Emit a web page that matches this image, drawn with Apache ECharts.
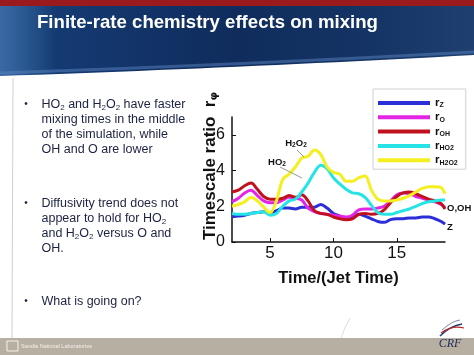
<!DOCTYPE html>
<html><head><meta charset="utf-8">
<script src="https://cdn.jsdelivr.net/npm/echarts@6/dist/echarts.min.js"></script>
<style>html,body{margin:0;padding:0;background:#fff}#c{width:474px;height:355px}</style>
</head><body><div id="c"></div>
<script>
const time  = [2,2.5,3,3.5,4,4.5,5,5.5,6,6.5,7,7.5,8,8.5,9,9.5,10,10.5,11,11.5,12,12.5,13,13.5,14,14.5,15,15.5,16,16.5,17,17.5,18,18.5,18.8];
const rZ    = [1.42,1.45,1.5,1.6,1.65,1.7,1.65,1.75,1.9,1.9,1.85,1.95,1.95,1.95,2.1,1.9,1.6,1.45,1.3,1.4,1.55,1.45,1.3,1.15,1.1,1.25,1.3,1.3,1.35,1.35,1.4,1.4,1.3,1.15,1.0];
const rO    = [2.25,2.45,2.75,2.9,2.6,2.3,2.2,2.2,2.35,2.5,2.45,2.35,1.9,1.7,1.6,1.55,1.5,1.45,1.4,1.5,1.8,1.85,1.85,1.9,2.0,2.3,2.65,2.75,2.7,2.55,2.45,2.35,2.25,2.1,1.9];
const rOH   = [2.8,2.9,3.15,3.3,2.95,2.55,2.4,2.4,2.45,2.6,2.5,2.65,2.3,1.75,1.6,1.55,1.4,1.3,1.25,1.3,1.55,1.6,1.55,1.6,1.8,2.2,2.55,2.75,2.8,2.7,2.55,2.4,2.3,2.15,1.85];
const rHO2  = [1.6,1.55,1.55,1.6,1.65,1.7,1.5,1.6,2.0,2.3,2.4,2.8,3.3,3.9,4.3,4.1,3.6,3.25,2.95,2.75,2.7,2.5,2.05,1.65,1.55,1.55,1.65,1.75,1.85,2.0,2.15,2.25,2.3,2.35,2.35];
const rH2O2 = [2.0,2.1,2.25,2.5,2.3,1.95,1.65,2.3,3.5,3.8,4.2,4.7,4.8,5.15,4.9,4.2,3.9,3.8,3.4,3.4,3.6,3.7,2.9,2.4,2.3,2.3,2.35,2.45,2.6,2.8,3.0,3.1,3.1,3.05,2.7];
const seriesNames = ['Z','O','OH','HO2','H2O2'];
const xTicks = [5,10,15];
const yTicks = [0,2,4,6];
const title = 'Finite-rate chemistry effects on mixing';
const bullets = [
  ['HO{s|2} and H{s|2}O{s|2} have faster','mixing times in the middle','of the simulation, while','OH and O are lower'],
  ['Diffusivity trend does not','appear to hold for HO{s|2}','and H{s|2}O{s|2} versus O and','OH.'],
  ['What is going on?']
];

const colors = ['#2b2fd8','#e426e4','#c0121c','#26e4e6','#f4f020'];
const allData = [rZ,rO,rOH,rHO2,rH2O2];
const FONT = '"Liberation Sans", Arial, sans-serif';

const chart = echarts.init(document.getElementById('c'));

// header bottom edge (decorative curve)
const headerPts = [[0,0],[474,0]];
for (let k = 0; k <= 24; k++) {
  const t = k/24;
  const x = (1-t)*(1-t)*474 + 2*t*(1-t)*237 + t*t*0;
  const y = (1-t)*(1-t)*55 + 2*t*(1-t)*68 + t*t*76;
  headerPts.push([x,y]);
}
const grad = (stops, x2, y2) => ({type:'linear', x:0, y:0, x2:x2, y2:y2, colorStops:stops});

const graphics = [];
graphics.push({type:'polygon', z:-10, shape:{points:headerPts},
  style:{fill:grad([
    {offset:0,color:'#3a6aa6'},{offset:0.05,color:'#2a5890'},{offset:0.12,color:'#153a72'},
    {offset:0.5,color:'#0f2c5c'},{offset:0.8,color:'#153566'},{offset:1,color:'#1e3f70'}],1,0)}});
graphics.push({type:'bezierCurve', z:-9, shape:{x1:0,y1:73,cpx1:237,cpy1:65,x2:474,y2:52},
  style:{stroke:'rgba(90,130,190,0.5)', lineWidth:3, fill:null}});
graphics.push({type:'rect', z:-8, shape:{x:0,y:0,width:474,height:6}, style:{fill:'#9b1a1e'}});
graphics.push({type:'text', z:10, x:37, y:23, style:{text:title, fill:'#ffffff',
  font:'bold 18.6px '+FONT, verticalAlign:'middle'}});
// left faint line
graphics.push({type:'line', z:-9, shape:{x1:13,y1:78,x2:12,y2:338}, style:{stroke:'#d0d0d0', lineWidth:1}});
// footer
graphics.push({type:'rect', z:-8, shape:{x:0,y:338,width:474,height:17}, style:{fill:'#b7afa1'}});
graphics.push({type:'bezierCurve', z:-9, shape:{x1:337,y1:355,cpx1:340,cpy1:335,x2:350,y2:318}, style:{stroke:'#dcdcdc', lineWidth:1, fill:null}});
graphics.push({type:'rect', z:-7, shape:{x:7,y:341,width:11,height:10}, style:{fill:null, stroke:'#f4f0ea', lineWidth:1}});
graphics.push({type:'text', z:-7, x:21, y:346.5, style:{text:'Sandia National Laboratories', fill:'#f4f0ea',
  font:'5.5px '+FONT, verticalAlign:'middle'}});
// CRF logo
graphics.push({type:'bezierCurve', z:-7, shape:{x1:440,y1:336,cpx1:450,cpy1:326,x2:462,y2:324}, style:{stroke:'#2a3f75', lineWidth:1.5, fill:null}});
graphics.push({type:'bezierCurve', z:-7, shape:{x1:441,y1:333,cpx1:452,cpy1:325,x2:464,y2:328}, style:{stroke:'#b22a2a', lineWidth:1.2, fill:null}});
graphics.push({type:'bezierCurve', z:-7, shape:{x1:442,y1:330,cpx1:452,cpy1:321,x2:460,y2:320}, style:{stroke:'#7a8aa8', lineWidth:1, fill:null}});
graphics.push({type:'text', z:-6, x:450, y:344, style:{text:'CRF', fill:'#1d2a55',
  font:'italic 12px "Liberation Serif", serif', align:'center', verticalAlign:'middle'}});
// bullets
const bulletTops = [104.5, 203.5, 301.5];
bullets.forEach((lines, bi) => {
  graphics.push({type:'text', x:26, y:bulletTops[bi], style:{text:'•', fill:'#1c2240',
    font:'10px '+FONT, align:'center', verticalAlign:'middle'}});
  lines.forEach((ln, li) => {
    graphics.push({type:'text', x:41.5, y:bulletTops[bi] + li*15, style:{text:ln, fill:'#1c2240',
      font:'12.5px '+FONT, lineHeight:15, verticalAlign:'middle',
      rich:{s:{fontSize:8, fontFamily:FONT, lineHeight:7, verticalAlign:'bottom', fill:'#1c2240'}}}});
  });
});
// y axis title (rotated)
graphics.push({type:'text', x:210, y:166, rotation:Math.PI/2, style:{
  text:'Timescale ratio  {r|r}{p|φ}', fill:'#111', font:'bold 17px '+FONT, lineHeight:20,
  align:'center', verticalAlign:'middle',
  rich:{r:{fontSize:17, fontWeight:'bold', fontFamily:FONT, lineHeight:20, fill:'#111'},
        p:{fontSize:11, fontWeight:'bold', fontFamily:'"DejaVu Sans", sans-serif', lineHeight:8, verticalAlign:'bottom', fill:'#111'}}}});
// annotations
const ann = (txt, x, y) => ({type:'text', x, y, z:20, style:{text:txt, fill:'#111', font:'bold 9.5px '+FONT,
  lineHeight:11, align:'center', verticalAlign:'middle',
  rich:{s:{fontSize:6.5, fontWeight:'bold', fontFamily:FONT, lineHeight:5, verticalAlign:'bottom', fill:'#111'}}}});
graphics.push(ann('H{s|2}O{s|2}', 296, 143.5));
graphics.push(ann('HO{s|2}', 277, 162));
graphics.push({type:'line', z:19, shape:{x1:297,y1:150,x2:304,y2:157}, style:{stroke:'#999', lineWidth:1}});
graphics.push({type:'line', z:19, shape:{x1:280,y1:167,x2:302,y2:178}, style:{stroke:'#999', lineWidth:1}});
graphics.push({type:'text', z:20, x:447, y:208, style:{text:'O,OH', fill:'#111', font:'bold 9.5px '+FONT, verticalAlign:'middle'}});
graphics.push({type:'text', z:20, x:447, y:227, style:{text:'Z', fill:'#111', font:'bold 9.5px '+FONT, verticalAlign:'middle'}});

const option = {
  backgroundColor:'#ffffff',
  animation:false,
  graphic: graphics,
  grid:{left:232, right:29, top:117, bottom:113},
  legend:{
    orient:'vertical', left:373, top:89, selectedMode:false,
    backgroundColor:'#ffffff', borderColor:'#cfcfcf', borderWidth:1,
    padding:[8,8,3,5], itemWidth:52, itemHeight:4, itemGap:2.3,
    icon:'rect',
    data: seriesNames,
    formatter: n => '{r|r}{s|' + n + '}',
    textStyle:{ rich:{
      r:{fontSize:11.5, fontWeight:'bold', fontFamily:FONT, lineHeight:12, color:'#111'},
      s:{fontSize:7, fontWeight:'bold', fontFamily:FONT, lineHeight:5, verticalAlign:'bottom', color:'#111'}
    }}
  },
  xAxis:{
    type:'value', min:2, max:18.8,
    name:'Time/(Jet Time)', nameLocation:'middle', nameGap:28,
    nameTextStyle:{fontSize:16.5, fontWeight:'bold', fontFamily:FONT, color:'#111'},
    axisLine:{lineStyle:{color:'#111', width:1.5}},
    axisTick:{inside:true, length:4, customValues:xTicks, lineStyle:{color:'#111'}},
    axisLabel:{customValues:xTicks, fontSize:17, fontFamily:FONT, color:'#111', margin:3},
    splitLine:{show:false}
  },
  yAxis:{
    type:'value', min:0, max:7,
    axisLine:{show:true, lineStyle:{color:'#111', width:1.5}},
    axisTick:{show:true, inside:true, length:4, customValues:yTicks, lineStyle:{color:'#111'}},
    axisLabel:{customValues:yTicks, fontSize:16, fontFamily:FONT, color:'#111', margin:7},
    splitLine:{show:false}
  },
  series: seriesNames.map((n,i) => ({
    name:n, type:'line', smooth:0.35, showSymbol:false,
    data: time.map((t,j) => [t, allData[i][j]]),
    lineStyle:{width:3, color:colors[i]}, itemStyle:{color:colors[i]}
  }))
};
chart.setOption(option);
</script>
</body></html>
